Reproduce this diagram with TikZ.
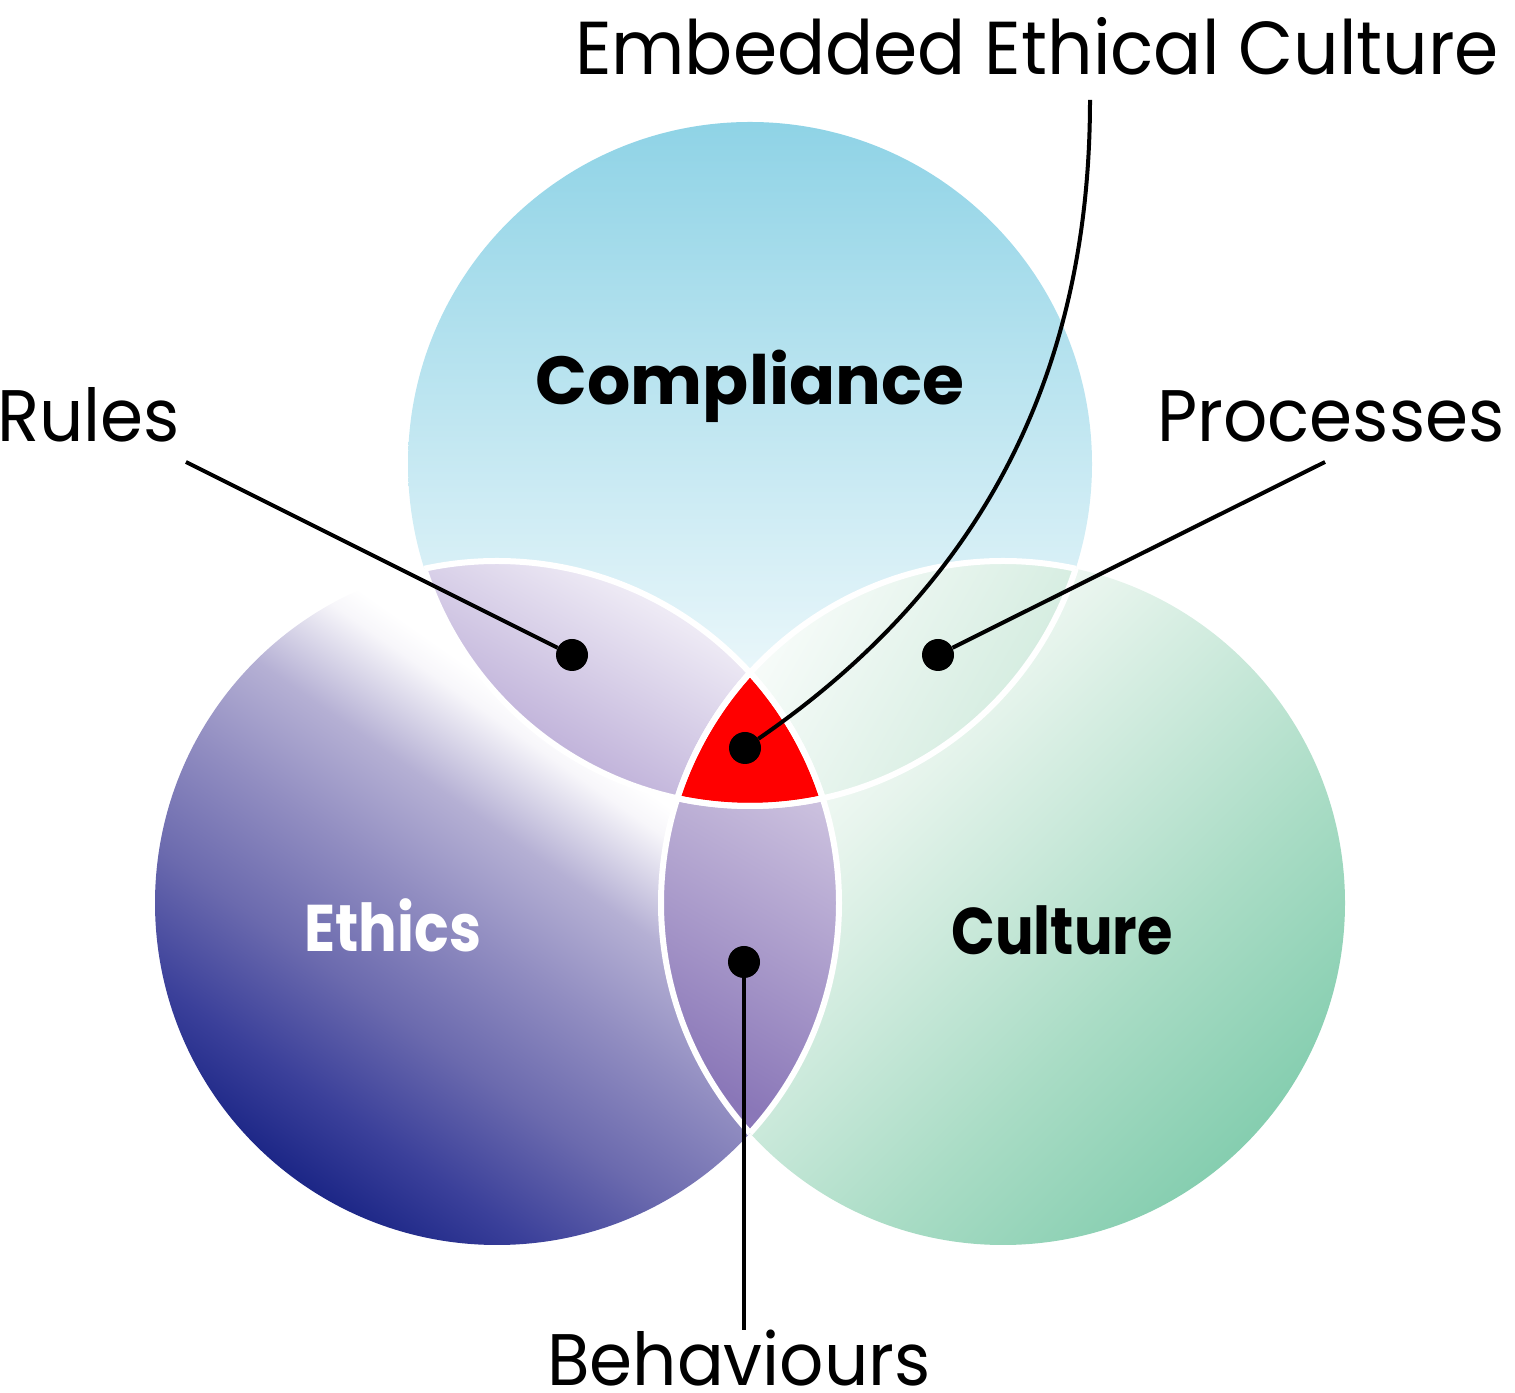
\documentclass[tikz,border=0pt]{standalone}
\usepackage{fontspec}
\setmainfont{Poppins}
\newfontfamily\calloutfont{Poppins}[FakeStretch=0.95]
\newfontfamily\narrowfont{Poppins}[FakeStretch=0.87]

\definecolor{compblue}{HTML}{8FD3E6}
\definecolor{comppale}{HTML}{C6E9F2}
\definecolor{ethnavy}{HTML}{1D2787}
\definecolor{ethdark}{HTML}{3B409A}
\definecolor{ethmid}{HTML}{6B6AAE}
\definecolor{ethlav}{HTML}{918DC1}
\definecolor{ethpale}{HTML}{B5B0D4}
\definecolor{ethwhite}{HTML}{F7F6FA}
\definecolor{cultgreen}{HTML}{86CEB0}
\definecolor{cultmid}{HTML}{A9DCC5}
\definecolor{cultsoft}{HTML}{C8E8D9}
\definecolor{cultpale}{HTML}{E6F4EC}
\definecolor{lensviolet}{HTML}{B1A0D1}
\definecolor{lensmint}{HTML}{CFEADC}
\definecolor{lensdeep}{HTML}{8A77B8}
\definecolor{lenslight}{HTML}{D8CFE6}

\pgfdeclareverticalshading{ethshade}{100bp}{color(0bp)=(ethnavy); color(25.2bp)=(ethnavy); color(31bp)=(ethdark); color(39bp)=(ethmid); color(47.1bp)=(ethlav); color(54.4bp)=(ethpale); color(61bp)=(ethwhite); color(63bp)=(white); color(100bp)=(white)}
\pgfdeclareverticalshading{cultshade}{100bp}{color(0bp)=(cultgreen); color(25.2bp)=(cultgreen); color(39bp)=(cultmid); color(50bp)=(cultsoft); color(61bp)=(cultpale); color(72bp)=(white); color(100bp)=(white)}

\tikzset{
  leader/.style={line width=4pt},
  dot/.style={circle, fill=black, inner sep=0pt, minimum size=32pt},
  lensedge/.style={draw=white, line width=6pt},
  plainlabel/.style={font=\calloutfont\fontsize{73}{80}\selectfont, inner sep=0pt, anchor=base},
  setlabel/.style={font=\narrowfont\bfseries\fontsize{66}{70}\selectfont, inner sep=0pt, anchor=base},
}

\begin{document}
\begin{tikzpicture}[x=1pt,y=1pt]
  \useasboundingbox (0,0) rectangle (1515,1392);
  \def\R{342pt}
  \coordinate (comp) at (750,928);
  \coordinate (eth) at (497,489);
  \coordinate (cult) at (1003,489);

  % the three sets
  \shade[top color=compblue, middle color=comppale, bottom color=white] (comp) circle (\R);
  \shade[shading=ethshade, shading angle=-35] (eth) circle (\R);
  \shade[shading=cultshade, shading angle=45] (cult) circle (\R);

  % overlaps of two
  \begin{scope}
    \clip (comp) circle (\R); \clip (eth) circle (\R);
    \shade[top color=white, bottom color=lensviolet, shading angle=-30] (424,586) rectangle (822,831);
  \end{scope}
  \begin{scope}
    \clip (comp) circle (\R); \clip (cult) circle (\R);
    \shade[top color=white, bottom color=lensmint, shading angle=60] (678,586) rectangle (1076,831);
  \end{scope}
  \begin{scope}
    \clip (eth) circle (\R); \clip (cult) circle (\R);
    \shade[top color=lenslight, bottom color=lensdeep, shading angle=-30] (661,259) rectangle (839,719);
  \end{scope}

  % overlap of all three
  \begin{scope}
    \clip (comp) circle (\R); \clip (eth) circle (\R);
    \fill[red] (cult) circle (\R);
  \end{scope}

  % white rims
  \foreach \a/\b in {comp/eth,comp/cult,eth/comp,eth/cult,cult/comp,cult/eth}{
    \begin{scope}
      \clip (\b) circle (\R);
      \draw[lensedge] (\a) circle (\R);
    \end{scope}
  }

  % labels
  \node[setlabel, font=\bfseries\fontsize{68}{72}\selectfont] (complabel) at (750,987) {Compliance};
  \node[setlabel, text=white] (ethlabel) at (393,440) {Ethics};
  \node[setlabel] (cultlabel) at (1062,437) {Culture};
  \node[plainlabel, font=\calloutfont\fontsize{75}{80}\selectfont] (embedded) at (1037,1317) {Embedded Ethical Culture};
  \node[plainlabel, anchor=base west] (rules) at (-3,950) {Rules};
  \node[plainlabel] (processes) at (1331,950) {Processes};
  \node[plainlabel] (behaviours) at (739,6) {Behaviours};

  % dots and leaders
  \node[dot] (dotrules) at (572,737) {};
  \node[dot] (dotproc) at (938,737) {};
  \node[dot] (dotcore) at (745,644) {};
  \node[dot] (dotbehav) at (744,430) {};
  \coordinate (rulesend) at (186,930);
  \coordinate (procend) at (1325,930);
  \coordinate (coreend) at (1090,1292);

  \draw[leader] (rulesend) -- (dotrules);
  \draw[leader] (procend) -- (dotproc);
  \draw[leader] (coreend) .. controls (1090,992) and (960,792) .. (dotcore);
  \draw[leader] (dotbehav) -- (dotbehav |- behaviours.north);
\end{tikzpicture}
\end{document}
